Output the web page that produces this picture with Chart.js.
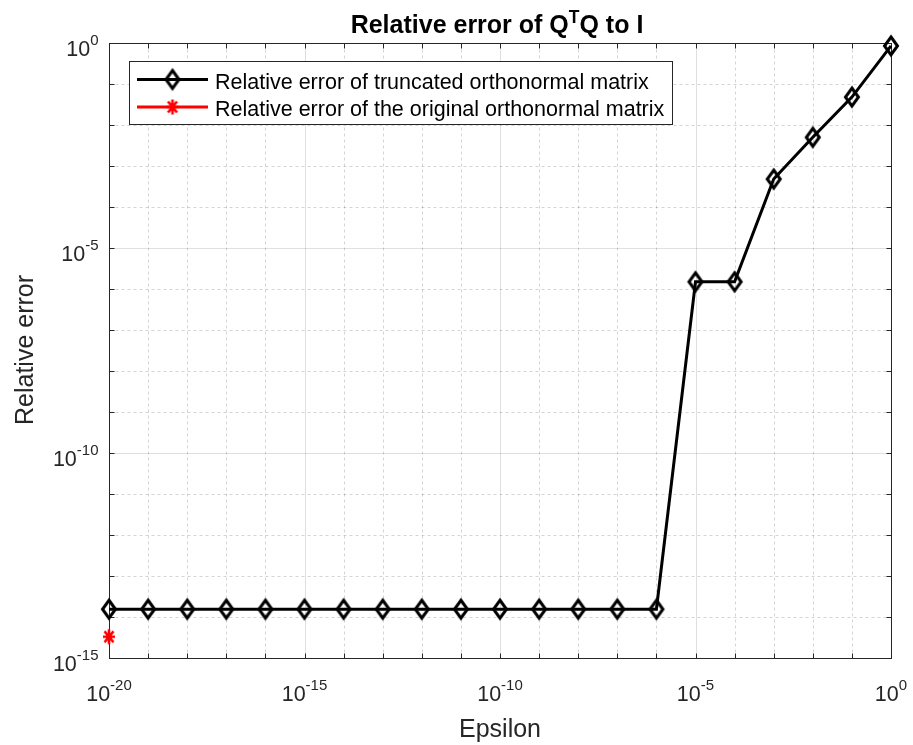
<!DOCTYPE html>
<html><head><meta charset="utf-8">
<script src="https://cdn.jsdelivr.net/npm/chart.js@4/dist/chart.umd.min.js"></script>
<style>html,body{margin:0;padding:0;background:#fff;}canvas{display:block}</style>
</head><body>
<canvas id="c" width="913" height="745" style="width:913px;height:745px"></canvas>
<script>
// ---- data ----
const epsilon = [1e-20, 1e-19, 1e-18, 1e-17, 1e-16, 1e-15, 1e-14, 1e-13, 1e-12, 1e-11,
                 1e-10, 1e-9, 1e-8, 1e-7, 1e-6, 1e-5, 1e-4, 1e-3, 1e-2, 1e-1, 1e0];
const truncatedError = [1.55e-14, 1.55e-14, 1.55e-14, 1.55e-14, 1.55e-14, 1.55e-14, 1.55e-14,
                        1.55e-14, 1.55e-14, 1.55e-14, 1.55e-14, 1.55e-14, 1.55e-14, 1.55e-14,
                        1.55e-14, 1.5e-6, 1.5e-6, 4.8e-4, 5.0e-3, 4.8e-2, 0.85];
const originalEpsilon = [1e-20];
const originalError = [3.3e-15];
const xTickExponents = [-20, -15, -10, -5, 0];
const yTickExponents = [-15, -10, -5, 0];
const xDecadeExponents = [-20,-19,-18,-17,-16,-15,-14,-13,-12,-11,-10,-9,-8,-7,-6,-5,-4,-3,-2,-1,0];
const yDecadeExponents = [-15,-14,-13,-12,-11,-10,-9,-8,-7,-6,-5,-4,-3,-2,-1,0];
const titleMain = 'Relative error of Q';
const titleSup = 'T';
const titleRest = 'Q to I';
const xLabel = 'Epsilon';
const yLabel = 'Relative error';
const legendLabels = ['Relative error of truncated orthonormal matrix',
                      'Relative error of the original orthonormal matrix'];

const FONT = '"Liberation Sans", Arial, Helvetica, sans-serif';
const AX = '#262626';

function makeDiamond() {
  const c = document.createElement('canvas');
  c.width = 22; c.height = 28;
  const g = c.getContext('2d');
  g.strokeStyle = '#000'; g.lineWidth = 3; g.lineJoin = 'miter';
  g.beginPath();
  g.moveTo(11, 5); g.lineTo(17.5, 14); g.lineTo(11, 23); g.lineTo(4.5, 14);
  g.closePath(); g.stroke();
  return c;
}
function makeStar() {
  const c = document.createElement('canvas');
  c.width = 16; c.height = 18;
  const g = c.getContext('2d');
  g.strokeStyle = '#ff0000'; g.lineWidth = 2.6; g.lineCap = 'butt';
  const cx = 8, cy = 9;
  g.beginPath();
  g.moveTo(cx - 6, cy); g.lineTo(cx + 6, cy);
  g.moveTo(cx, cy - 7.5); g.lineTo(cx, cy + 7.5);
  g.moveTo(cx - 4.5, cy - 5.5); g.lineTo(cx + 4.5, cy + 5.5);
  g.moveTo(cx + 4.5, cy - 5.5); g.lineTo(cx - 4.5, cy + 5.5);
  g.stroke();
  return c;
}
const diamond = makeDiamond();
const star = makeStar();

function drawPow(ctx, exp, startX, baseY, supY) {
  ctx.font = '21.5px ' + FONT;
  ctx.fillText('10', startX, baseY);
  const wb = ctx.measureText('10').width;
  ctx.font = '15px ' + FONT;
  ctx.fillText(String(exp), startX + wb, supY);
}
function powWidth(ctx, exp) {
  ctx.font = '21.5px ' + FONT;
  const wb = ctx.measureText('10').width;
  ctx.font = '15px ' + FONT;
  return wb + ctx.measureText(String(exp)).width;
}

const matlabAxes = {
  id: 'matlabAxes',
  beforeDatasetsDraw(chart) {
    const {ctx, chartArea: a, scales: {x, y}} = chart;
    const L = Math.round(a.left) + 0.5, R = Math.round(a.right) + 0.5;
    const T = Math.round(a.top) + 0.5, B = Math.round(a.bottom) + 0.5;
    ctx.save();
    ctx.lineWidth = 1;
    const line = (x1, y1, x2, y2) => { ctx.beginPath(); ctx.moveTo(x1, y1); ctx.lineTo(x2, y2); ctx.stroke(); };
    xDecadeExponents.forEach(e => {
      if (e === xDecadeExponents[0] || e === xDecadeExponents[xDecadeExponents.length - 1]) return;
      const px = Math.round(x.getPixelForValue(Math.pow(10, e))) + 0.5;
      const major = xTickExponents.includes(e);
      ctx.strokeStyle = major ? 'rgba(38,38,38,0.15)' : 'rgba(38,38,38,0.2)';
      ctx.setLineDash(major ? [] : [3, 3]);
      line(px, T, px, B);
    });
    yDecadeExponents.forEach(e => {
      if (e === yDecadeExponents[0] || e === yDecadeExponents[yDecadeExponents.length - 1]) return;
      const py = Math.round(y.getPixelForValue(Math.pow(10, e))) + 0.5;
      const major = yTickExponents.includes(e);
      ctx.strokeStyle = major ? 'rgba(38,38,38,0.15)' : 'rgba(38,38,38,0.2)';
      ctx.setLineDash(major ? [] : [3, 3]);
      line(L, py, R, py);
    });
    ctx.setLineDash([]);
    ctx.strokeStyle = AX;
    xDecadeExponents.forEach(e => {
      const px = Math.round(x.getPixelForValue(Math.pow(10, e))) + 0.5;
      line(px, B, px, B - 5); line(px, T, px, T + 5);
    });
    yDecadeExponents.forEach(e => {
      const py = Math.round(y.getPixelForValue(Math.pow(10, e))) + 0.5;
      line(L, py, L + 5, py); line(R, py, R - 5, py);
    });
    ctx.strokeRect(L, T, R - L, B - T);
    ctx.restore();
  },
  afterDatasetsDraw(chart) {
    const {ctx, chartArea: a, scales: {x, y}} = chart;
    ctx.save();
    ctx.fillStyle = AX;
    ctx.textAlign = 'left';
    ctx.textBaseline = 'alphabetic';
    xTickExponents.forEach(e => {
      const px = x.getPixelForValue(Math.pow(10, e));
      const w = powWidth(ctx, e);
      drawPow(ctx, e, px - w / 2, a.bottom + 43, a.bottom + 31.5);
    });
    yTickExponents.forEach(e => {
      const py = y.getPixelForValue(Math.pow(10, e));
      const w = powWidth(ctx, e);
      drawPow(ctx, e, 98.5 - w, py + 13, py + 1.5);
    });
    ctx.font = '25px ' + FONT;
    ctx.textAlign = 'center';
    ctx.fillText(xLabel, (a.left + a.right) / 2, 737);
    ctx.save();
    ctx.translate(33, 350);
    ctx.rotate(-Math.PI / 2);
    ctx.fillText(yLabel, 0, 0);
    ctx.restore();
    ctx.fillStyle = '#000';
    ctx.textAlign = 'left';
    ctx.font = 'bold 25px ' + FONT;
    const w1 = ctx.measureText(titleMain).width;
    const w3 = ctx.measureText(titleRest).width;
    ctx.font = 'bold 17.5px ' + FONT;
    const w2 = ctx.measureText(titleSup).width;
    let tx = 497 - (w1 + w2 + w3) / 2;
    ctx.font = 'bold 25px ' + FONT;
    ctx.fillText(titleMain, tx, 33);
    ctx.font = 'bold 17.5px ' + FONT;
    ctx.fillText(titleSup, tx + w1, 23);
    ctx.font = 'bold 25px ' + FONT;
    ctx.fillText(titleRest, tx + w1 + w2, 33);
    ctx.fillStyle = '#fff';
    ctx.fillRect(129.5, 61.5, 543, 63);
    ctx.strokeStyle = AX; ctx.lineWidth = 1;
    ctx.strokeRect(129.5, 61.5, 543, 63);
    const rows = [79.5, 107];
    const colors = ['#000', '#ff0000'];
    const marks = [diamond, star];
    rows.forEach((ry, i) => {
      ctx.strokeStyle = colors[i]; ctx.lineWidth = 3;
      ctx.beginPath(); ctx.moveTo(137, ry); ctx.lineTo(208, ry); ctx.stroke();
      ctx.drawImage(marks[i], 172.5 - marks[i].width / 2, ry - marks[i].height / 2);
      ctx.fillStyle = '#000';
      ctx.font = '21.5px ' + FONT;
      ctx.fillText(legendLabels[i], 215, ry + 9);
    });
    ctx.restore();
  }
};

new Chart(document.getElementById('c').getContext('2d'), {
  type: 'line',
  data: {
    datasets: [
      {
        data: epsilon.map((v, i) => ({x: v, y: truncatedError[i]})),
        borderColor: '#000', borderWidth: 3, tension: 0,
        pointStyle: diamond, pointRadius: 8, backgroundColor: 'transparent',
        clip: false
      },
      {
        data: originalEpsilon.map((v, i) => ({x: v, y: originalError[i]})),
        borderColor: '#ff0000', showLine: false,
        pointStyle: star, pointRadius: 8, clip: false
      }
    ]
  },
  options: {
    responsive: false, animation: false, events: [], devicePixelRatio: 1,
    layout: {padding: {left: 109, right: 22, top: 43, bottom: 87}},
    plugins: {legend: {display: false}, tooltip: {enabled: false}, title: {display: false}},
    scales: {
      x: {type: 'logarithmic', min: 1e-20, max: 1, display: false},
      y: {type: 'logarithmic', min: 1e-15, max: 1, display: false}
    }
  },
  plugins: [matlabAxes]
});
</script>
</body></html>
